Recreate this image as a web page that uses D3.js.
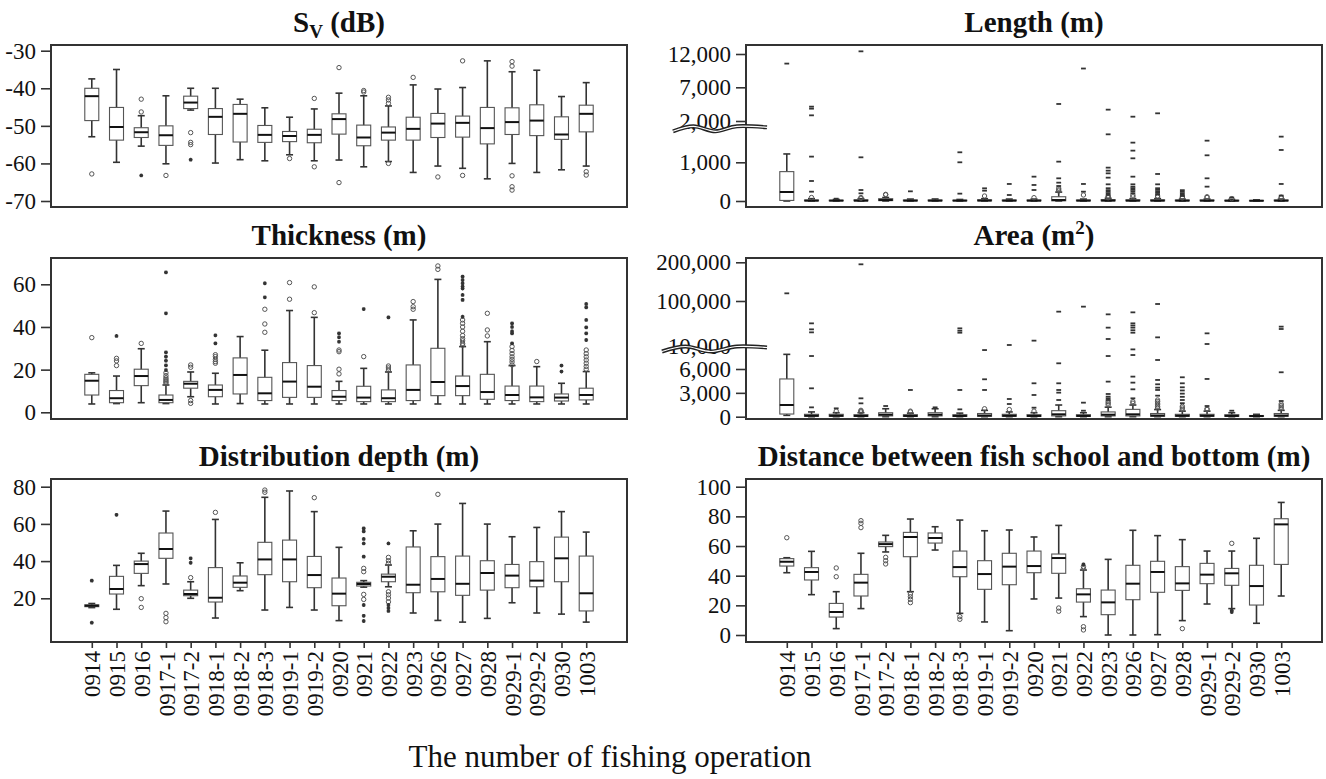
<!DOCTYPE html>
<html>
<head>
<meta charset="utf-8">
<script src="https://d3js.org/d3.v7.min.js"></script>
<style>
body { margin: 0; background: #fff; }
text { font-family: "Liberation Serif", "Times New Roman", serif; }
</style>
</head>
<body>
<script>
var cats = ["0914", "0915", "0916", "0917-1", "0917-2", "0918-1", "0918-2", "0918-3", "0919-1", "0919-2",
  "0920", "0921", "0922", "0923", "0926", "0927", "0928", "0929-1", "0929-2", "0930", "1003"];

// each box: [lower whisker, Q1, median, Q3, upper whisker]; out = circles, ext = asterisks
var svStats = [[-52.9,-48.6,-42.1,-40.0,-37.5],[-59.7,-53.8,-50.3,-45.1,-35.0],[-55.4,-53.1,-51.7,-50.5,-47.3],
  [-60.1,-55.2,-52.5,-50.0,-42.0],[-45.8,-45.4,-43.8,-42.1,-40.0],[-59.9,-52.3,-47.6,-45.4,-40.0],
  [-59.0,-54.3,-46.8,-44.3,-42.9],[-59.3,-54.4,-52.4,-49.9,-45.2],[-57.7,-54.2,-52.7,-51.5,-47.7],
  [-59.3,-54.5,-52.4,-50.9,-45.5],[-59.1,-52.2,-48.2,-46.8,-41.3],[-60.9,-55.3,-53.1,-49.8,-42.0],
  [-59.5,-53.8,-51.8,-50.3,-44.7],[-62.4,-53.8,-50.8,-47.7,-39.1],[-60.7,-53.1,-49.4,-46.7,-40.2],
  [-61.3,-53.0,-49.2,-47.4,-39.8],[-64.1,-54.8,-50.6,-45.1,-32.7],[-60.0,-52.3,-49.0,-45.2,-35.6],
  [-62.4,-52.6,-48.6,-44.4,-35.2],[-61.7,-53.6,-52.3,-47.6,-42.2],[-60.7,-51.6,-46.8,-44.5,-38.5]];
var svOut = [[-62.8],[],[-42.9,-46.3],[-63.2],[-51.8,-54.4,-55.0],[],[],[],[-58.7],[-42.7,-60.9],[-34.5,-65.1],
  [-41.0,-40.6],[-42.4,-43.1,-44.0,-60.0],[-37.1],[-63.6],[-32.7,-63.2],[],[-32.9,-34.1,-63.3,-66.2,-67.1],[],[],[-62.2,-63.1]];
var svExt = [[],[],[-63.2],[],[-59.0],[],[],[],[],[],[],[],[],[],[],[],[],[],[],[],[]];

var thStats = [[3.9,8.1,14.8,17.8,18.5],[4.1,4.5,6.6,10.2,17.0],[4.5,12.5,17.0,20.2,29.8],[4.1,4.5,5.8,8.1,12.8],
  [7.3,11.3,13.4,14.5,18.9],[3.9,7.3,10.5,12.8,18.3],[4.1,8.6,17.5,25.5,35.5],[3.9,5.5,8.9,16.4,29.1],
  [3.9,7.0,14.4,23.3,47.7],[3.9,7.0,12.0,21.9,44.5],[3.9,5.5,7.3,10.2,14.5],[3.9,5.0,6.9,12.2,20.6],
  [3.9,5.0,6.6,10.5,18.9],[3.9,5.5,10.5,22.2,43.3],[3.9,7.8,14.2,30.0,62.3],[3.9,7.8,12.3,17.0,30.8],
  [3.9,6.1,9.5,17.8,33.1],[3.9,5.5,8.1,12.3,21.9],[3.9,5.0,7.0,12.3,21.4],[3.9,5.3,6.9,8.6,13.6],[3.9,5.8,8.1,11.3,19.1]];
var thOut = [[35.0],[21.9,24.1,25.3],[32.3],[13.6,14.2,14.8,15.5,16.2,17.2,18.5],[21.1,22.2,5.5,4.2],
  [23.0,23.8,24.8,26.1,27.0],[],[37.5,41.4,48.3],[53.0,60.8],[46.7,58.8],[18.0,20.2,28.4,29.2],[26.1],
  [19.8,20.8,21.7],[48.3,49.5,51.9],[67.0,68.6],[31.5,32.3,33.5,34.5,36.0,38.0,40.0,41.7,43.3],[35.8,38.6,46.4],
  [22.2,23.6,24.8,26.0,27.5,29.0,30.8],[23.8],[],[20.2,21.5,23.0,24.5,26.0,27.5,29.2]];
var thExt = [[],[35.8],[],[19.8,22.0,24.2,26.1,28.1,46.4,65.6],[],[32.3,36.1],[],[53.9,60.5],[],[],[33.1,35.2,37.0],
  [48.4],[44.5],[],[],[44.8,52.7,55.0,58.0,59.0,60.5,62.0,63.6],[],[32.3,37.0,38.0,40.0,41.7],[],[19.1,21.9],
  [33.9,37.0,39.8,43.3,49.2,50.8]];

var dpStats = [[15.0,15.5,16.0,16.5,17.2],[14.1,22.3,25.0,31.8,37.7],[26.8,33.4,38.4,40.0,44.2],[27.7,41.5,46.5,55.1,66.9],
  [20.0,21.4,22.3,24.4,28.9],[9.4,18.0,20.3,36.5,62.4],[24.1,25.9,28.4,32.0,39.1],[13.7,32.7,40.9,50.1,74.3],
  [15.1,28.9,40.9,51.3,77.7],[13.7,25.7,32.5,42.5,66.6],[8.0,16.0,22.5,30.9,47.4],[26.0,26.6,27.7,28.6,29.5],
  [26.2,28.9,31.6,33.0,37.9],[12.1,23.0,27.3,47.6,56.3],[8.1,23.5,30.4,42.4,59.9],[7.2,21.6,27.8,42.7,71.0],
  [9.2,24.4,33.6,40.2,59.9],[17.6,25.7,32.2,38.2,53.1],[12.1,26.2,29.5,39.7,58.1],[11.5,28.9,41.5,52.9,66.6],
  [7.2,13.2,22.7,42.7,55.6]];
var dpOut = [[],[],[19.8,15.1],[11.9,9.6,7.4],[31.1],[66.2],[],[77.0,78.2],[],[74.1],[],[36.1,34.3,22.1,19.4],
  [38.8,40.2,42.0,23.5,21.9,20.1,18.1],[],[75.9],[],[],[],[],[],[]];
var dpExt = [[29.5,6.9],[64.9],[],[],[39.1,41.5],[],[],[],[],[],[],[57.6,56.0,51.9,49.5,42.4,16.4,10.6,7.8],
  [49.5,16.4,14.8,13.2],[],[],[],[],[],[],[],[]];

var lnStats = [[0,15,233,759,1216],[0,5,10,25,60],[0,5,10,20,40],[0,5,10,30,60],[0,10,25,60,90],[0,5,10,25,50],
  [0,5,10,25,52],[0,5,10,20,40],[0,5,12,30,60],[0,5,10,25,50],[0,5,10,25,50],[0,5,25,110,230],[0,5,10,25,50],
  [0,5,12,35,70],[0,5,10,30,60],[0,5,10,30,60],[0,5,10,25,50],[0,5,10,25,50],[0,3,8,20,40],[0,3,6,15,30],[0,5,10,25,50]];
var lnOut = [[],[90],[],[69,90],[160,172],[],[],[],[129],[],[86],[260,290,328],[155],[85,100,120],[110,150],
  [100,130],[80,100],[90,110],[60],[],[80,100]];
var lnExt = [[10560],[241,517,1147,2840,3830,4130],[60],[198,284,1129,12400],[],[250],[],[190,1000,1259],[267,328],
  [155,440],[284,414,629],[388,474,586,1017,4525],[241,440,9820],[160,200,240,280,330,431,603,715,784,862,1724,3683],
  [200,250,290,330,370,431,629,1103,1302,1509,2640],[170,210,250,290,330,431,698,3140],[130,160,200,240,280],
  [371,586,1181,1560],[90],[],[140,440,1319,1664]];

var arStats = [[168,336,1470,4748,7857],[0,50,120,300,600],[0,50,120,300,500],[0,40,100,250,500],[0,100,250,500,1000],
  [0,40,100,250,450],[0,100,250,500,1000],[0,40,100,250,450],[0,50,150,400,800],[0,50,120,300,600],[0,40,100,250,500],
  [0,100,300,756,1470],[0,40,100,250,500],[0,100,250,600,1200],[0,100,300,924,1470],[0,50,150,400,900],
  [0,50,120,300,700],[0,50,120,300,700],[0,50,100,250,500],[0,30,80,150,300],[0,50,150,400,800]];
var arOut = [[],[],[700],[600,700,800],[],[600,700],[],[],[1000],[900],[700],[],[],[1500,1700,1900],[1700,1900],
  [1100,1300,1500,1700,1900,2100],[900,1100,1300],[900,1000],[],[],[1000,1200,1400,1600]];
var arExt = [[119800],[1176,3571,7647,37300,43300,55300],[1050],[1681,2311,194800],[1345],[3361],[1176],
  [924,3361,36600,40600,45300],[3361,4706,8403],[1597,2227,12000],[1134,2731,4202,20700],
  [2101,3025,3361,4202,6722,78700],[756,1765,88700],[2100,2300,2521,2857,4412,7647,24000,46700,73300],
  [2311,3445,4286,5042,7773,8487,36600,41500,46700,51000,55300,77300],[2647,3361,3655,4076,4622,7143,27300,94000],
  [1700,2100,2500,2900,3300,3700,4202,4958],[1345,4748,14000,35300],[756],[],[1975,5588,44000,48700]];

var dsStats = [[42.0,46.5,49.4,51.5,52.1],[27.2,37.1,42.5,45.4,56.4],[4.3,12.1,15.5,21.3,29.2],[17.8,26.3,35.3,40.9,55.1],
  [56.0,59.6,61.3,62.7,67.2],[29.2,52.8,66.1,69.2,78.2],[57.3,62.0,65.4,68.8,73.0],[14.6,39.3,45.8,56.6,77.5],
  [8.8,30.8,41.1,50.1,70.3],[2.9,33.9,46.1,55.1,70.8],[24.3,42.0,46.5,56.6,66.1],[24.9,41.6,51.9,54.6,73.9],
  [12.4,22.2,27.4,31.2,43.8],[0.0,13.7,22.0,30.3,51.0],[0.0,23.8,34.6,47.0,70.6],[0.2,28.8,42.5,49.7,67.0],
  [9.7,30.1,34.8,46.1,64.3],[20.9,34.6,40.7,48.3,56.6],[17.8,33.5,41.6,44.9,56.6],[7.9,20.2,33.0,47.0,65.2],
  [26.3,47.6,74.6,78.4,89.4]];
var dsOut = [[65.6],[],[39.3,45.2],[72.4,75.3,77.1],[47.9,50.1,52.4],[21.8,24.0,25.8,27.6],[],[10.6,12.4],[],[],[],
  [16.0,18.2],[3.4,5.6,44.7,46.1],[],[],[],[4.3],[],[61.8],[],[]];
var dsExt = [[],[],[],[],[],[],[],[],[],[],[],[],[47.6],[],[],[],[],[],[15.5,16.5],[],[]];

var svTicks = [-30, -40, -50, -60, -70],
    thTicks = [0, 20, 40, 60],
    dpTicks = [20, 40, 60, 80],
    lnTicks = [0, 1000, 2000, 7000, 12000],
    arTicks = [0, 3000, 6000, 10000, 100000, 200000],
    dsTicks = [0, 20, 40, 60, 80, 100];

var width = 1326, height = 779;
var serif = "Liberation Serif, Times New Roman, serif";

var svg = d3.select("body").append("svg")
    .attr("width", width)
    .attr("height", height);

var xLeft = d3.scalePoint().domain(cats).range([51, 627]).padding(1.65),
    xRight = d3.scalePoint().domain(cats).range([746, 1322]).padding(1.65);

var plain = function(d) { return String(d); },
    comma = d3.format(",");

// small asterisk, and the flat dash used where the marks are packed tightly
var starPath = "M-1.9,0H1.9M0,-1.9V1.9M-1.4,-1.4L1.4,1.4M-1.4,1.4L1.4,-1.4",
    dashPath = "M-2.4,0H2.4";

var panels = [
  {title: [["S", 0], ["V", 1], [" (dB)", 0]], stats: svStats, out: svOut, ext: svExt, x: xLeft, top: 45, bottom: 207,
   y: d3.scaleLinear().domain([-30, -70]).range([50.7, 201]), ticks: svTicks, fmt: plain, mark: starPath},
  {title: [["Length (m)", 0]], stats: lnStats, out: lnOut, ext: lnExt, x: xRight, top: 45, bottom: 207,
   y: d3.scaleLinear().domain([0, 1000, 1880, 2000, 7000, 12000]).range([201, 162.3, 128.3, 121, 87.3, 54]),
   ticks: lnTicks, fmt: comma, brk: 1880, brkLeft: 73, mark: dashPath},
  {title: [["Thickness (m)", 0]], stats: thStats, out: thOut, ext: thExt, x: xLeft, top: 258, bottom: 419,
   y: d3.scaleLinear().domain([0, 60]).range([412.3, 284.3]), ticks: thTicks, fmt: plain, mark: starPath},
  {title: [["Area (m", 0], ["2", -1], [")", 0]], stats: arStats, out: arOut, ext: arExt, x: xRight, top: 258, bottom: 419,
   y: d3.scaleLinear().domain([0, 6000, 8600, 10000, 100000, 200000]).range([416.7, 369, 348.5, 346, 301, 262.3]),
   ticks: arTicks, fmt: comma, brk: 8600, brkLeft: 84, mark: dashPath},
  {title: [["Distribution depth (m)", 0]], stats: dpStats, out: dpOut, ext: dpExt, x: xLeft, top: 479, bottom: 642,
   y: d3.scaleLinear().domain([20, 80]).range([598.3, 486.7]), ticks: dpTicks, fmt: plain, xaxis: true, mark: starPath},
  {title: [["Distance between fish school and bottom (m)", 0]], stats: dsStats, out: dsOut, ext: dsExt, x: xRight,
   top: 479, bottom: 642, y: d3.scaleLinear().domain([0, 100]).range([635, 486.7]), ticks: dsTicks, fmt: plain,
   xaxis: true, mark: starPath}
];

panels.forEach(function(p) {
  var g = svg.append("g"),
      x = p.x, y = p.y,
      x0 = x.range()[0], x1 = x.range()[1],
      bw = 14, cw = 7;

  // title with sub/superscripts
  var t = g.append("text")
      .attr("x", (x0 + x1) / 2)
      .attr("y", p.top - 13)
      .attr("text-anchor", "middle")
      .style("font-size", "29px")
      .style("font-weight", "bold")
      .style("fill", "#111");
  var prev = 0;
  p.title.forEach(function(part) {
    var shift = part[1] > 0 ? 6 : (part[1] < 0 ? -11 : 0);
    t.append("tspan")
        .attr("dy", shift - prev)
        .style("font-size", part[1] ? "19px" : null)
        .text(part[0]);
    prev = shift;
  });

  var box = g.selectAll(".box")
      .data(p.stats)
    .enter().append("g")
      .attr("class", "box")
      .attr("transform", function(d, i) { return "translate(" + x(cats[i]) + ",0)"; });

  box.append("line")
      .attr("y1", function(d) { return y(d[0]); })
      .attr("y2", function(d) { return y(d[4]); })
      .attr("stroke", "#333").attr("stroke-width", 1.6);
  [0, 4].forEach(function(k) {
    box.append("line")
        .attr("x1", -cw / 2).attr("x2", cw / 2)
        .attr("y1", function(d) { return y(d[k]); })
        .attr("y2", function(d) { return y(d[k]); })
        .attr("stroke", "#333").attr("stroke-width", 1.6);
  });
  box.append("rect")
      .attr("x", -bw / 2)
      .attr("width", bw)
      .attr("y", function(d) { return y(d[3]); })
      .attr("height", function(d) { return Math.max(0.5, y(d[1]) - y(d[3])); })
      .attr("fill", "#fff").attr("stroke", "#555").attr("stroke-width", 1.1);
  box.append("line")
      .attr("x1", -bw / 2).attr("x2", bw / 2)
      .attr("y1", function(d) { return y(d[2]); })
      .attr("y2", function(d) { return y(d[2]); })
      .attr("stroke", "#111").attr("stroke-width", 2);

  box.each(function(d, i) {
    var b = d3.select(this);
    b.selectAll(".out")
        .data(p.out[i])
      .enter().append("circle")
        .attr("class", "out")
        .attr("cy", function(v) { return y(v); })
        .attr("r", 2.2)
        .attr("fill", "none").attr("stroke", "#555").attr("stroke-width", 1);
    b.selectAll(".ext")
        .data(p.ext[i])
      .enter().append("path")
        .attr("class", "ext")
        .attr("transform", function(v) { return "translate(0," + y(v) + ")"; })
        .attr("d", p.mark)
        .attr("stroke", "#333").attr("stroke-width", p.mark === dashPath ? 1.8 : 1.1);
  });

  // frame
  g.append("rect")
      .attr("x", x0).attr("y", p.top)
      .attr("width", x1 - x0).attr("height", p.bottom - p.top)
      .attr("fill", "none").attr("stroke", "#333").attr("stroke-width", 2);

  var ax = g.append("g")
      .attr("transform", "translate(" + x0 + ",0)")
      .call(d3.axisLeft(y).tickValues(p.ticks).tickSize(10).tickPadding(5).tickFormat(p.fmt))
      .attr("font-size", 23)
      .attr("font-family", serif);
  ax.select(".domain").remove();
  ax.selectAll("line").attr("stroke", "#333").attr("stroke-width", 1.6);
  ax.selectAll("text").style("fill", "#111");

  if (p.brk) {
    var yb = y(p.brk);
    var wave = d3.line().curve(d3.curveCardinal);
    var pts = [[x0 - p.brkLeft, yb + 3], [x0 - p.brkLeft * 0.72, yb - 2], [x0 - p.brkLeft * 0.42, yb + 3],
               [x0 - 9, yb - 2], [x0 + 21, yb - 1]];
    g.append("path").attr("d", wave(pts)).attr("fill", "none").attr("stroke", "#222").attr("stroke-width", 4);
    g.append("path").attr("d", wave(pts)).attr("fill", "none").attr("stroke", "#fff").attr("stroke-width", 1.2);
  }

  if (p.xaxis) {
    var xa = g.append("g")
        .attr("transform", "translate(0," + p.bottom + ")")
        .call(d3.axisBottom(x).tickSize(6))
        .attr("font-size", 23)
        .attr("font-family", serif);
    xa.select(".domain").remove();
    xa.selectAll("line").attr("stroke", "#333").attr("stroke-width", 1.6);
    xa.selectAll("text")
        .attr("transform", "rotate(-90)")
        .attr("x", -9)
        .attr("y", 0)
        .attr("dy", "0.35em")
        .style("text-anchor", "end")
        .style("fill", "#111");
  }
});

svg.append("text")
    .attr("x", 610)
    .attr("y", 767)
    .attr("text-anchor", "middle")
    .style("font-size", "31px")
    .style("fill", "#111")
    .text("The number of fishing operation");
</script>
</body>
</html>
